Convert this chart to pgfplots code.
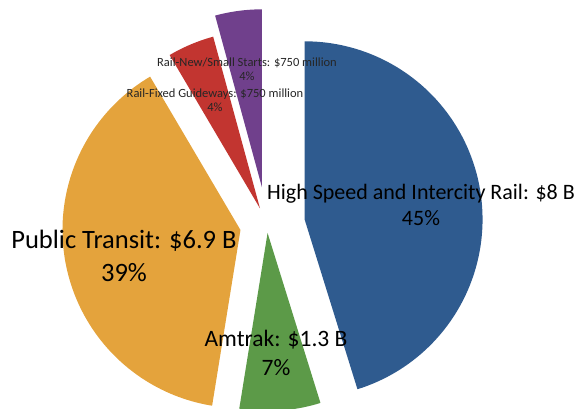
\documentclass[border=0pt]{standalone}
\usepackage{pgfplots}
\usepackage{pgfplotstable}
\pgfplotsset{compat=1.18}
\usepackage{fontspec}
\setmainfont{Carlito}

\definecolor{cBlue}{HTML}{2F5B8F}
\definecolor{cGreen}{HTML}{5C9A48}
\definecolor{cOrange}{HTML}{E4A33C}
\definecolor{cRed}{HTML}{C23530}
\definecolor{cPurple}{HTML}{70408C}

% value in $ billion, explode = offset of the slice in px
\pgfplotstableread{
name      value explode
HSR       8     38
Amtrak    1.3   8
Transit   6.9   27
Fixed     0.75  18
NewStarts 0.75  38
}\pie

\newcommand\getv[2]{\pgfplotstablegetelem{#1}{value}\of\pie\pgfmathsetmacro#2{\pgfplotsretval}}
\newcommand\gete[2]{\pgfplotstablegetelem{#1}{explode}\of\pie\pgfmathsetmacro#2{\pgfplotsretval}}

% one exploded slice: start angle, end angle, offset, colour
\newcommand\slice[4]{%
  \pgfmathsetmacro\mid{(#1+#2)/2}%
  \pgfmathsetmacro\ox{267+#3*cos(\mid)}%
  \pgfmathsetmacro\oy{184+#3*sin(\mid)}%
  \edef\tmp{\noexpand\addplot[fill=#4, draw=none, domain=#2:#1, samples=90]
    ({\ox+178*cos(x)},{\oy+178*sin(x)}) -- (axis cs:\ox,\oy) -- cycle;}%
  \tmp
}

\begin{document}
\begin{tikzpicture}
\clip (0,0) rectangle (581pt,409pt);
\getv{0}\vA \getv{1}\vB \getv{2}\vC \getv{3}\vD \getv{4}\vE
\gete{0}\eA \gete{1}\eB \gete{2}\eC \gete{3}\eD \gete{4}\eE
\pgfmathsetmacro\tot{\vA+\vB+\vC+\vD+\vE}
\pgfmathsetmacro\aA{90}
\pgfmathsetmacro\aB{\aA-360*\vA/\tot}
\pgfmathsetmacro\aC{\aB-360*\vB/\tot}
\pgfmathsetmacro\aD{\aC-360*\vC/\tot}
\pgfmathsetmacro\aE{\aD-360*\vD/\tot}
\pgfmathsetmacro\aF{\aE-360*\vE/\tot}
\begin{axis}[
    at={(0,0)}, anchor=south west,
    scale only axis,
    width=581pt, height=409pt,
    xmin=0, xmax=581, ymin=0, ymax=409,
    hide axis,
]
\slice{\aA}{\aB}{\eA}{cBlue}
\slice{\aB}{\aC}{\eB}{cGreen}
\slice{\aC}{\aD}{\eC}{cOrange}
\slice{\aD}{\aE}{\eD}{cRed}
\slice{\aE}{\aF}{\eE}{cPurple}

\node[align=center, text=black!85, font=\fontsize{12.5}{14}\selectfont] at (axis cs:247,340) {Rail-New/Small Starts: \$750 million\\4\%};
\node[align=center, text=black!85, font=\fontsize{12.5}{14}\selectfont] at (axis cs:215,309) {Rail-Fixed Guideways: \$750 million\\4\%};
\node[align=center, font=\fontsize{22}{26}\selectfont] at (axis cs:421,204) {High Speed and Intercity Rail: \$8 B\\45\%};
\node[align=center, font=\fontsize{26.5}{33}\selectfont] at (axis cs:124,153) {Public Transit: \$6.9 B\\39\%};
\node[align=center, font=\fontsize{23.5}{29}\selectfont] at (axis cs:276,56) {Amtrak: \$1.3 B\\7\%};
\end{axis}
\end{tikzpicture}
\end{document}
